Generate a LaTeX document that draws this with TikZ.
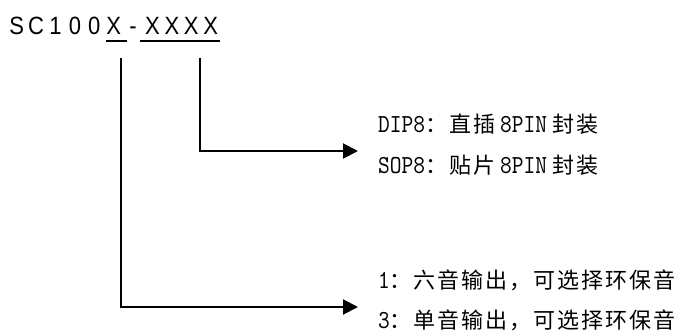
\documentclass[tikz,border=0pt]{standalone}
\usepackage{fontspec}
\usetikzlibrary{arrows.meta}
\newfontfamily\cjkfont[LetterSpace=9]{Noto Sans CJK SC}
\newfontfamily\titlefont[FakeStretch=0.88]{Liberation Sans}
\newfontfamily\latfont[FakeStretch=0.86]{lmmono10-regular.otf}
\newcommand{\tch}[1]{\makebox[19.4pt][c]{#1}}
\newcommand{\lat}[1]{{\fontsize{26}{28}\selectfont\latfont #1}}
\newcommand{\zh}[1]{{\fontsize{22}{24}\selectfont\cjkfont #1}}
\tikzset{
  conn/.style={line width=2pt, -{Triangle[length=15pt,width=15pt]}},
  uline/.style={line width=2.2pt},
  txt/.style={inner sep=0pt, anchor=base west},
}
\begin{document}
\begin{tikzpicture}[x=1pt,y=-1pt]
\fill[white] (0,0) rectangle (680,334);
\useasboundingbox (0,0) rectangle (680,334);
% title
\node[txt] (title) at (6.8,35) {\fontsize{25}{27}\selectfont\titlefont
  \tch{S}\tch{C}\tch{1}\tch{0}\tch{0}\tch{X}\tch{-}\tch{X}\tch{X}\tch{X}\tch{X}};
% underlines
\coordinate (u1a) at (106,41);
\coordinate (u1b) at (127,41);
\coordinate (u2a) at (140,41);
\coordinate (u2b) at (220,41);
\draw[uline] (u1a) -- (u1b);
\draw[uline] (u2a) -- (u2b);
% connector ends
\coordinate (s1) at (121,58);
\coordinate (s2) at (200,58);
\coordinate (a1) at (358,307);
\coordinate (a2) at (358,151);
% texts
\node[txt] (d1) at (378,132) {\lat{DIP8}\zh{：直插}\hspace{5pt}\lat{8PIN}\hspace{5pt}\zh{封装}};
\node[txt] (d2) at (378,174) {\lat{SOP8}\zh{：贴片}\hspace{5pt}\lat{8PIN}\hspace{5pt}\zh{封装}};
\node[txt] (o1) at (378,288) {\lat{1}\zh{：六音输出，可选择环保音}};
\node[txt] (o2) at (378,328) {\lat{3}\zh{：单音输出，可选择环保音}};
% connectors
\draw[conn] (s2) |- (a2);
\draw[conn] (s1) |- (a1);
\end{tikzpicture}
\end{document}
